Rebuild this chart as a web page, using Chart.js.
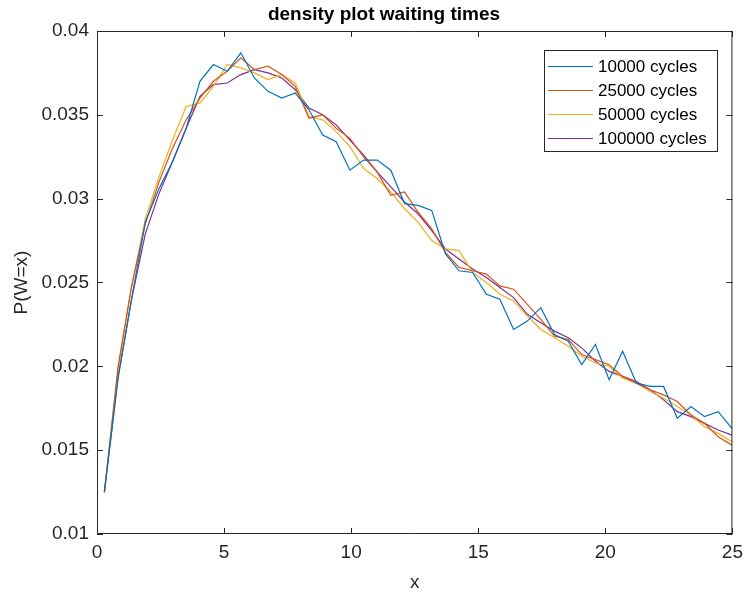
<!DOCTYPE html>
<html>
<head>
<meta charset="utf-8">
<script src="https://cdn.jsdelivr.net/npm/chart.js@4.4.1/dist/chart.umd.min.js"></script>
<style>
  html, body { margin: 0; padding: 0; background: #fff; }
  #wrap { width: 750px; height: 597px; }
</style>
</head>
<body>
<div id="wrap"><canvas id="densityChart" width="750" height="597"></canvas></div>
<script>
// x positions of the histogram points
const xValues = [0.29, 0.83, 1.36, 1.90, 2.44, 2.97, 3.51, 4.05, 4.58, 5.12,
    5.66, 6.19, 6.73, 7.27, 7.80, 8.34, 8.88, 9.41, 9.95, 10.49,
    11.02, 11.56, 12.10, 12.63, 13.17, 13.71, 14.24, 14.78, 15.32, 15.85,
    16.39, 16.93, 17.46, 18.00, 18.54, 19.07, 19.61, 20.15, 20.68, 21.22,
    21.76, 22.29, 22.83, 23.37, 23.90, 24.44, 24.98];

const cycles10000 = [0.0125, 0.0193, 0.0240, 0.0286, 0.0306, 0.0322, 0.0342, 0.0370, 0.0380, 0.0376,
    0.0387, 0.0372, 0.0364, 0.0360, 0.0363, 0.0353, 0.0338, 0.0334, 0.0317, 0.0323,
    0.0323, 0.0317, 0.0297, 0.0296, 0.0293, 0.0267, 0.0257, 0.0256, 0.0243, 0.0240,
    0.0222, 0.0227, 0.0235, 0.0219, 0.0215, 0.0201, 0.0213, 0.0192, 0.0209, 0.0190,
    0.0188, 0.0188, 0.0169, 0.0176, 0.0170, 0.0173, 0.0163];

const cycles25000 = [0.0125, 0.0200, 0.0248, 0.0285, 0.0310, 0.0330, 0.0347, 0.0360, 0.0370, 0.0376,
    0.0384, 0.0377, 0.0379, 0.0374, 0.0367, 0.0348, 0.0350, 0.0342, 0.0336, 0.0325,
    0.0316, 0.0302, 0.0304, 0.0292, 0.0282, 0.0268, 0.0259, 0.0257, 0.0255, 0.0248,
    0.0246, 0.0237, 0.0228, 0.0218, 0.0216, 0.0207, 0.0204, 0.0201, 0.0194, 0.0190,
    0.0186, 0.0183, 0.0179, 0.0171, 0.0166, 0.0158, 0.0153];

const cycles50000 = [0.0125, 0.0198, 0.0247, 0.0288, 0.0313, 0.0335, 0.0355, 0.0357, 0.0367, 0.0380,
    0.0378, 0.0375, 0.0371, 0.0374, 0.0369, 0.0349, 0.0347, 0.0340, 0.0331, 0.0318,
    0.0312, 0.0304, 0.0294, 0.0286, 0.0275, 0.0270, 0.0269, 0.0256, 0.0250, 0.0243,
    0.0239, 0.0230, 0.0222, 0.0217, 0.0212, 0.0206, 0.0202, 0.0200, 0.0193, 0.0190,
    0.0185, 0.0181, 0.0176, 0.0171, 0.0164, 0.0160, 0.0155];

const cycles100000 = [0.0125, 0.0194, 0.0240, 0.0279, 0.0303, 0.0322, 0.0342, 0.0361, 0.0368, 0.0369,
    0.0374, 0.0377, 0.0375, 0.0372, 0.0365, 0.0354, 0.0350, 0.0344, 0.0335, 0.0326,
    0.0316, 0.0307, 0.0298, 0.0291, 0.0281, 0.0270, 0.0264, 0.0258, 0.0253, 0.0247,
    0.0241, 0.0231, 0.0226, 0.0221, 0.0217, 0.0211, 0.0203, 0.0197, 0.0194, 0.0191,
    0.0186, 0.0180, 0.0173, 0.0170, 0.0166, 0.0162, 0.0159];

const seriesLabels = ['10000 cycles', '25000 cycles', '50000 cycles', '100000 cycles'];
const seriesColors = ['#0072BD', '#D95319', '#EDB120', '#7E2F8E'];
const xTicks = [0, 5, 10, 15, 20, 25];
const yTicks = [0.01, 0.015, 0.02, 0.025, 0.03, 0.035, 0.04];

const FONT = "'Liberation Sans', Arial, Helvetica, sans-serif";
const INK = '#262626';

function toPoints(ys) {
    return ys.map((y, i) => ({ x: xValues[i], y: y }));
}

// MATLAB style box with inward ticks, title and boxed legend
const matlabPlugin = {
    id: 'matlabBox',
    afterDraw(chart) {
        const ctx = chart.ctx;
        const area = chart.chartArea;
        const xs = chart.scales.x;
        const ys = chart.scales.y;
        const tick = 6;
        ctx.save();
        ctx.strokeStyle = INK;
        ctx.lineWidth = 1;
        ctx.beginPath();
        ctx.rect(area.left + 0.5, area.top + 0.5, area.right - area.left - 1, area.bottom - area.top - 1);
        xTicks.forEach(v => {
            const px = Math.round(xs.getPixelForValue(v)) + 0.5;
            ctx.moveTo(px, area.bottom);
            ctx.lineTo(px, area.bottom - tick);
            ctx.moveTo(px, area.top);
            ctx.lineTo(px, area.top + tick);
        });
        yTicks.forEach(v => {
            const py = Math.round(ys.getPixelForValue(v)) + 0.5;
            ctx.moveTo(area.left, py);
            ctx.lineTo(area.left + tick, py);
            ctx.moveTo(area.right, py);
            ctx.lineTo(area.right - tick, py);
        });
        ctx.stroke();

        // title
        ctx.fillStyle = '#000';
        ctx.font = 'bold 19px ' + FONT;
        ctx.textAlign = 'center';
        ctx.textBaseline = 'middle';
        ctx.fillText('density plot waiting times', 384, 15);

        // legend
        const lx = 544, ly = 50, lw = 174, lh = 102;
        ctx.fillStyle = '#fff';
        ctx.fillRect(lx, ly, lw, lh);
        ctx.strokeStyle = INK;
        ctx.strokeRect(lx + 0.5, ly + 0.5, lw - 1, lh - 1);
        ctx.font = '17px ' + FONT;
        ctx.textAlign = 'left';
        chart.data.datasets.forEach((ds, i) => {
            const cy = 66 + i * 24;
            ctx.strokeStyle = ds.borderColor;
            ctx.beginPath();
            ctx.moveTo(548, cy + 0.5);
            ctx.lineTo(593, cy + 0.5);
            ctx.stroke();
            ctx.fillStyle = '#000';
            ctx.fillText(ds.label, 598, cy + 1);
        });
        ctx.restore();
    }
};

const datasets = [cycles10000, cycles25000, cycles50000, cycles100000].map((ys, i) => ({
    label: seriesLabels[i],
    data: toPoints(ys),
    borderColor: seriesColors[i],
    backgroundColor: seriesColors[i],
    borderWidth: 1.2,
    pointRadius: 0,
    tension: 0,
    fill: false
}));

const ctx = document.getElementById('densityChart').getContext('2d');
const densityChart = new Chart(ctx, {
    type: 'line',
    data: { datasets: datasets },
    options: {
        responsive: false,
        animation: false,
        layout: { padding: { top: 31, right: 13, left: 0, bottom: 0 } },
        plugins: {
            legend: { display: false },
            title: { display: false },
            tooltip: { enabled: false }
        },
        scales: {
            x: {
                type: 'linear',
                min: 0,
                max: 25,
                afterFit: s => { s.height = 63; },
                afterBuildTicks: s => { s.ticks = xTicks.map(v => ({ value: v })); },
                grid: { display: false, drawTicks: false },
                border: { display: false },
                ticks: {
                    color: INK,
                    padding: 7,
                    maxRotation: 0,
                    font: { family: FONT, size: 19 }
                },
                title: {
                    display: true,
                    text: 'x',
                    color: INK,
                    font: { family: FONT, size: 19 },
                    padding: { top: 0, bottom: 3 }
                }
            },
            y: {
                type: 'linear',
                min: 0.01,
                max: 0.04,
                afterFit: s => { s.width = 97; },
                afterBuildTicks: s => { s.ticks = yTicks.map(v => ({ value: v })); },
                grid: { display: false, drawTicks: false },
                border: { display: false },
                ticks: {
                    color: INK,
                    padding: 8,
                    font: { family: FONT, size: 19 },
                    callback: v => String(Number(v.toFixed(4)))
                },
                title: {
                    display: true,
                    text: 'P(W=x)',
                    color: INK,
                    font: { family: FONT, size: 19 },
                    padding: { top: 10, bottom: 0 }
                }
            }
        }
    },
    plugins: [matlabPlugin]
});
</script>
</body>
</html>
